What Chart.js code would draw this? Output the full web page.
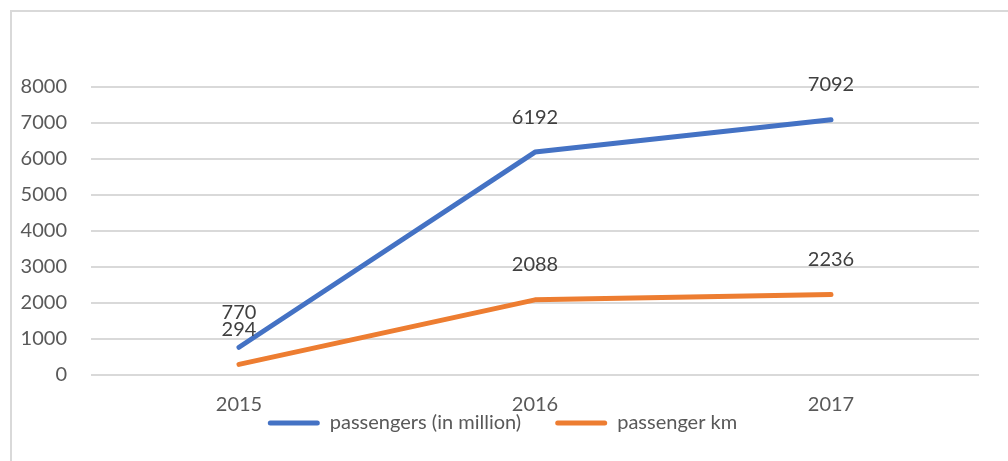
<!DOCTYPE html>
<html>
<head>
<meta charset="utf-8">
<script src="https://cdn.jsdelivr.net/npm/chart.js@4"></script>
<style>
  html, body { margin: 0; padding: 0; background: #ffffff; }
  #wrap { position: relative; width: 1008px; height: 461px; overflow: hidden; }
  #frame { position: absolute; left: 10px; top: 10px; width: 1100px; height: 600px;
           border-left: 2px solid #d9d9d9; border-top: 2px solid #d9d9d9; pointer-events: none; }
  canvas { position: absolute; left: 0; top: 0; }
</style>
</head>
<body>
<div id="wrap">
  <canvas id="c" width="1008" height="461"></canvas>
  <div id="frame"></div>
</div>
<script>
const categories = ['2015', '2016', '2017'];
const passengersMillion = [770, 6192, 7092];
const passengerKm = [294, 2088, 2236];
const seriesNames = ['passengers (in million)', 'passenger km'];
const seriesColors = ['#4472C4', '#ED7D31'];
const yMin = 0, yMax = 8000, yStep = 1000;

const FONT = 'Lato, "Open Sans", sans-serif';

const dataLabels = {
  id: 'dataLabels',
  afterDatasetsDraw(chart) {
    const ctx = chart.ctx;
    ctx.save();
    ctx.font = '20px ' + FONT;
    ctx.fillStyle = '#404040';
    ctx.textAlign = 'center';
    ctx.textBaseline = 'middle';
    chart.data.datasets.forEach((ds, di) => {
      const meta = chart.getDatasetMeta(di);
      meta.data.forEach((pt, i) => {
        ctx.fillText(String(ds.data[i]), pt.x, pt.y - 35);
      });
    });
    ctx.restore();
  }
};

const legendMover = {
  id: 'legendMover',
  beforeDraw(chart) {
    if (chart.legend) {
      chart.legend.top = 379;
      chart.legend.left += 8;
      chart.legend.right += 8;
    }
  }
};

new Chart(document.getElementById('c'), {
  type: 'line',
  data: {
    labels: categories,
    datasets: [
      { label: seriesNames[0], data: passengersMillion, borderColor: seriesColors[0], backgroundColor: seriesColors[0],
        borderWidth: 5, pointRadius: 0, pointHoverRadius: 0, tension: 0, borderCapStyle: 'round', borderJoinStyle: 'round' },
      { label: seriesNames[1], data: passengerKm, borderColor: seriesColors[1], backgroundColor: seriesColors[1],
        borderWidth: 5, pointRadius: 0, pointHoverRadius: 0, tension: 0, borderCapStyle: 'round', borderJoinStyle: 'round' }
    ]
  },
  options: {
    responsive: false,
    animation: false,
    events: [],
    layout: { padding: { left: 10, right: 29, top: 87, bottom: 0 } },
    plugins: {
      tooltip: { enabled: false },
      title: { display: false },
      legend: {
        display: true,
        position: 'bottom',
        align: 'center',
        maxHeight: 36,
        labels: {
          boxWidth: 52,
          boxHeight: 5,
          padding: 34,
          color: '#595959',
          font: { family: FONT, size: 20 },
          useBorderRadius: true,
          borderRadius: 2.5,
          generateLabels(chart) {
            const items = Chart.defaults.plugins.legend.labels.generateLabels(chart);
            return items.map(it => Object.assign(it, { lineWidth: 0, strokeStyle: 'rgba(0,0,0,0)' }));
          }
        }
      }
    },
    scales: {
      x: {
        offset: true,
        grid: { display: false, drawTicks: false },
        border: { display: false },
        ticks: { color: '#595959', font: { family: FONT, size: 20 }, padding: 18, maxRotation: 0, autoSkip: false },
        afterFit(scale) { scale.height = 50; }
      },
      y: {
        min: yMin, max: yMax,
        grid: { color: '#d9d9d9', lineWidth: 2, drawTicks: false },
        border: { display: false },
        ticks: { stepSize: yStep, color: '#595959', font: { family: FONT, size: 20 }, padding: 24,
                 callback: (v) => String(v) },
        afterFit(scale) { scale.width = 81; }
      }
    }
  },
  plugins: [dataLabels, legendMover]
});
</script>
</body>
</html>
